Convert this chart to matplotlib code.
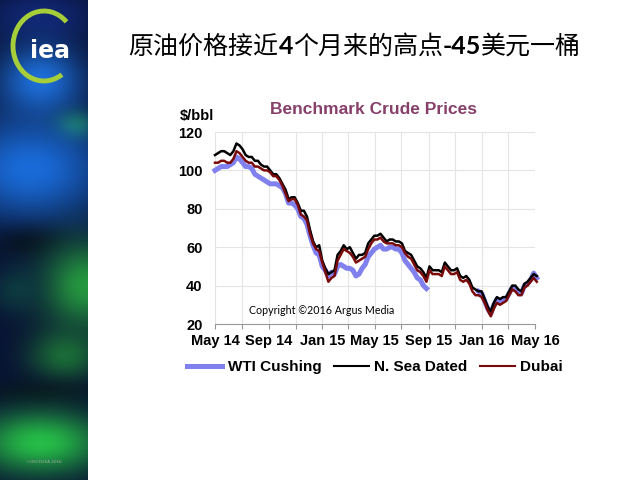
import numpy as np
import pandas as pd
import matplotlib
matplotlib.use("Agg")
import matplotlib.pyplot as plt
import matplotlib.dates as mdates
from matplotlib.patches import Arc
from datetime import datetime

# weekly prices, starting 1 May 2014
dates = pd.date_range("2014-05-01", periods=106, freq="7D")

brent = [108, 109, 110, 110, 109, 108, 110, 114, 113, 111,
         108, 107, 107, 105, 105, 103, 102, 102, 100, 98,
         98, 96, 93, 90, 85, 86, 86, 83, 79, 79,
         76, 69, 63, 60, 61, 53, 49, 46, 47, 48,
         56, 58, 61, 59, 60, 57, 54, 56, 56, 57,
         62, 64, 66, 66, 67, 65, 63, 64, 64, 63,
         63, 62, 58, 57, 56, 53, 50, 49, 47, 44,
         50, 48, 48, 48, 47, 52, 50, 48, 48, 49,
         45, 44, 45, 43, 39, 38, 37, 37, 33, 29,
         26.5, 31, 34, 33, 34, 34, 37, 40, 40, 38,
         37, 41, 42, 44, 46, 45]

dubai = [104, 104, 105, 105, 104, 104, 106, 110, 109, 107,
         105, 104, 104, 102, 102, 101, 100, 100, 99, 97,
         97, 95, 92, 88, 84, 85, 85, 82, 77, 76,
         74, 67, 62, 59, 58, 52, 47, 42, 44, 45,
         53, 56, 59, 58, 57, 55, 52, 53, 54, 55,
         59, 62, 64, 64, 65, 63, 62, 62, 62, 61,
         61, 60, 57, 55, 54, 51, 48, 47, 45, 42,
         48, 46, 46, 46, 45, 50, 48, 46, 46, 47,
         43, 42, 43, 41, 37, 35, 35, 34, 31, 27,
         24, 28, 31, 30, 31, 32, 35, 38, 37, 35,
         35, 39, 40, 42, 44, 42]

nan = np.nan
wti = [100, 101, 102, 102, 102, 103, 104, 107, 106, 104,
       102, 102, 101, 98, 97, 96, 95, 94, 93, 93,
       93, 92, 91, 88, 83, 83, 82, 80, 76, 75,
       72, 66, 61, 57, 56, 50, 48, 45, 47, 46,
       50, 51, 50, 49, 49, 48, 45, 46, 49, 51,
       55, 57, 59, 60, 61, 59, 59, 60, 60, 59,
       59, 57, 53, 51, 49, 47, 44, 43, 40, 38.5,
       nan, nan, nan, nan, nan, nan, nan, nan, nan, nan,
       nan, nan, nan, nan, nan, nan, 37, 36, 32, 28,
       25.5, 30, 33, 31.5, 32.5, 33, 36, 39, 38.5, 36.5,
       36, 40, 41, 43, 46.5, 44]

yticks = [20, 40, 60, 80, 100, 120]

W, H = 640, 480
fig = plt.figure(figsize=(6.4, 4.8), dpi=100)

def fx(px):
    return px / W

def fy(py):
    return 1 - py / H

# left decorative band
side = fig.add_axes([0, 0, 88 / W, 1])
yy, xx = np.mgrid[0:480, 0:88]
img = np.zeros((480, 88, 3))
img[:] = (0.03, 0.07, 0.20)
blobs = [
    (40, 15, 40, 20, 0.7, (0.08, 0.18, 0.55)),
    (40, 80, 30, 25, 0.95, (0.12, 0.45, 0.88)),
    (75, 125, 14, 10, 0.8, (0.12, 0.55, 0.25)),
    (30, 168, 55, 38, 1.0, (0.10, 0.42, 0.85)),
    (30, 242, 30, 12, 0.7, (0.02, 0.04, 0.08)),
    (85, 285, 30, 30, 0.95, (0.15, 0.62, 0.25)),
    (15, 290, 18, 16, 0.6, (0.06, 0.30, 0.28)),
    (65, 355, 25, 18, 0.8, (0.12, 0.50, 0.22)),
    (40, 392, 40, 10, 0.6, (0.02, 0.06, 0.08)),
    (40, 442, 45, 22, 1.0, (0.15, 0.74, 0.28)),
]
for cx, cy, sx, sy, a, col in blobs:
    w = a * np.exp(-((xx - cx) ** 2 / (2 * sx ** 2) + (yy - cy) ** 2 / (2 * sy ** 2)))
    w = w[..., None]
    img = img * (1 - w) + np.array(col) * w
side.imshow(np.clip(img, 0, 1), extent=(0, 88, 480, 0), aspect="auto")
side.add_patch(Arc((44, 46), 62, 70, theta1=-302, theta2=-47,
                   color="#a6ce39", lw=3.5))
side.text(50, 51, "iea", color="white", fontsize=17, fontweight="bold",
          ha="center", va="center")
side.text(44, 462, "©OECD/IEA 2016", color="#aaaaaa", fontsize=3,
          ha="center", va="center")
side.set_xlim(0, 88)
side.set_ylim(480, 0)
side.axis("off")

# title, digits in bold
pieces = [("原油价格接近", "normal"), ("4", "bold"), ("个月来的高点", "normal"),
          ("-45", "bold"), ("美元一桶", "normal")]
renderer = fig.canvas.get_renderer()
texts = []
for s, wt in pieces:
    fam = ["Lato", "DejaVu Sans"] if wt == "bold" else ["Noto Sans CJK SC", "DejaVu Sans"]
    t = fig.text(0, fy(47), s, fontsize=18, fontweight=wt, family=fam,
                 ha="left", va="center")
    texts.append(t)
widths = [t.get_window_extent(renderer).width for t in texts]
x0 = 355 - sum(widths) / 2
for t, w in zip(texts, widths):
    t.set_x(fx(x0))
    x0 += w

# chart
ax = fig.add_axes([fx(215), fy(324), 320 / W, 192 / H])
ax.plot(dates, wti, color="#8080ee", lw=3.6, clip_on=False, zorder=3)
ax.plot(dates, brent, color="black", lw=1.8, clip_on=False, zorder=4)
ax.plot(dates, dubai, color="#7a0a0a", lw=1.8, clip_on=False, zorder=5)

ax.set_xlim(datetime(2014, 5, 1), datetime(2016, 5, 1))
ax.set_ylim(20, 120)
ax.set_yticks(yticks)
ax.xaxis.set_major_locator(mdates.MonthLocator(bymonth=[1, 3, 5, 7, 9, 11]))

def fmt(x, pos):
    d = mdates.num2date(x)
    return d.strftime("%b %y") if d.month in (1, 5, 9) else ""

ax.xaxis.set_major_formatter(plt.FuncFormatter(fmt))
ax.grid(True, color="#e4e4e4", lw=0.8)
ax.set_axisbelow(True)
for s in ["top", "right", "left"]:
    ax.spines[s].set_visible(False)
ax.spines["bottom"].set_color("#999999")
ax.tick_params(axis="x", length=3.5, color="#999999", pad=4)
ax.tick_params(axis="y", length=0, pad=9)
for lab in ax.get_xticklabels() + ax.get_yticklabels():
    lab.set_fontsize(10.5)
    lab.set_fontweight("bold")
    lab.set_family("Liberation Sans")

fig.text(fx(197), fy(116), "$/bbl", fontsize=10.5, fontweight="bold",
         family="Liberation Sans", ha="center", va="center")
fig.text(fx(373), fy(110), "Benchmark Crude Prices", fontsize=12.5,
         fontweight="bold", color="#86406a", family="Liberation Sans",
         ha="center", va="center")
fig.text(fx(322), fy(311), "Copyright ©2016 Argus Media", fontsize=7.7,
         family="Lato", ha="center", va="center")

h1, = plt.plot([], [], color="#8080ee", lw=3.6)
h2, = plt.plot([], [], color="black", lw=1.5)
h3, = plt.plot([], [], color="#7a0a0a", lw=1.5)
fig.legend([h1, h2, h3], ["WTI Cushing", "N. Sea Dated", "Dubai"],
           loc="center", bbox_to_anchor=(fx(375), fy(367)), ncol=3,
           frameon=False, handlelength=2.3, handletextpad=0.35,
           columnspacing=0.8,
           prop={"family": "Liberation Sans", "weight": "bold", "size": 11})

fig.savefig("out.png", dpi=100)
